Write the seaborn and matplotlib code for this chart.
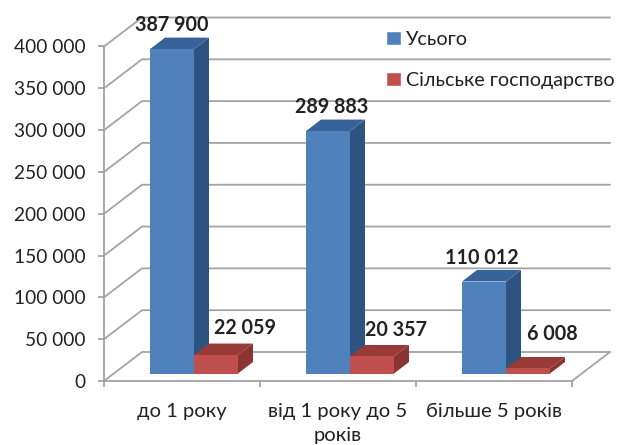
import pandas as pd
import seaborn as sns
import matplotlib.pyplot as plt
from matplotlib.patches import Polygon
from matplotlib.ticker import FuncFormatter, FixedLocator
from matplotlib.transforms import Affine2D

# --- data ---
categories = ["до 1 року", "від 1 року до 5\nроків", "більше 5 років"]
series_names = ["Усього", "Сільське господарство"]
total_values = [387900, 289883, 110012]
agri_values = [22059, 20357, 6008]
y_ticks = [0, 50000, 100000, 150000, 200000, 250000, 300000, 350000, 400000]

# --- style ---
W, H = 619, 445
AX_L, AX_R, AX_T, AX_B = 104, 572, 46.5, 381
GRID = "#a3a3a3"
FACE = ["#4f81bd", "#c0504d"]
SIDE = ["#2f5381", "#8a3432"]
TOP = ["#38639a", "#983a38"]
TXT = "#222222"
FS = 14.6

sns.set_theme(style="white")
plt.rcParams["font.family"] = ["Lato", "Open Sans", "DejaVu Sans"]

df = pd.DataFrame({
    "cat": categories * 2,
    "series": [series_names[0]] * 3 + [series_names[1]] * 3,
    "value": total_values + agri_values,
})

fig = plt.figure(figsize=(W / 100, H / 100), dpi=100)
ax = fig.add_axes([AX_L / W, 1 - AX_B / H, (AX_R - AX_L) / W, (AX_B - AX_T) / H])
ax.patch.set_alpha(0)

sns.barplot(data=df, x="cat", y="value", hue="series", hue_order=series_names,
            palette=FACE, saturation=1, width=0.564, gap=0, ax=ax, zorder=3)

ax.set_xlim(-0.5, 2.5)
ax.set_ylim(0, 400000)
ax.set_xlabel("")
ax.set_ylabel("")

# px -> data units
px_x = 3 / (AX_R - AX_L)
px_y = 400000 / (AX_B - AX_T)

# walls and floor, same depth for all of them
wall_dx, wall_dy = 38 * px_x, 29 * px_y
for v in y_ticks:
    ax.plot([-0.5, -0.5 + wall_dx, 2.5 + wall_dx], [v, v + wall_dy, v + wall_dy],
            color=GRID, lw=1.3, clip_on=False, zorder=1)
ax.plot([2.5, 2.5 + wall_dx], [0, wall_dy], color=GRID, lw=1.3, clip_on=False, zorder=1)

# bars stand a bit behind the front edge of the floor
shift = Affine2D().translate(12, 7.5)
bar_trans = ax.transData + shift
bar_dx, bar_dy = 15 * px_x, 11.5 * px_y

for n, cont in enumerate(ax.containers):
    for bar in cont:
        bar.set_transform(bar_trans)
        bar.set_linewidth(0)
        x0, w, h = bar.get_x(), bar.get_width(), bar.get_height()
        x1 = x0 + w
        side = [(x1, 0), (x1 + bar_dx, bar_dy), (x1 + bar_dx, h + bar_dy), (x1, h)]
        top = [(x0, h), (x0 + bar_dx, h + bar_dy), (x1 + bar_dx, h + bar_dy), (x1, h)]
        z = 3 + n
        ax.add_patch(Polygon(side, fc=SIDE[n], ec="none", transform=bar_trans, clip_on=False, zorder=z))
        ax.add_patch(Polygon(top, fc=TOP[n], ec="none", transform=bar_trans, clip_on=False, zorder=z))
        bar.set_zorder(z + 0.5)
        bar.set_clip_on(False)

# value labels, pixel shift from the top middle of the front face
label_shifts = [[(0, 24), (4, 24), (-2, 24)], [(29, 27), (24, 26), (24, 34)]]
for n, cont in enumerate(ax.containers):
    for i, bar in enumerate(cont):
        val = int(bar.get_height())
        dx, dy = label_shifts[n][i]
        ax.annotate(f"{val:,}".replace(",", " "),
                    (bar.get_x() + bar.get_width() / 2, val),
                    xycoords=bar_trans, xytext=(dx * 0.72, dy * 0.72),
                    textcoords="offset points", ha="center", va="center",
                    fontsize=14.2, fontweight="bold", color=TXT, zorder=8)

# axes
sns.despine(ax=ax, top=True, right=True)
for name in ["left", "bottom"]:
    ax.spines[name].set_color(GRID)
    ax.spines[name].set_linewidth(1.3)
    ax.spines[name].set_zorder(2)

ax.yaxis.set_major_locator(FixedLocator(y_ticks))
ax.yaxis.set_major_formatter(FuncFormatter(lambda v, _: f"{int(v):,}".replace(",", " ")))
ax.tick_params(axis="y", left=True, length=4.5, width=1.3, color=GRID, pad=9,
               labelsize=13.8, labelcolor=TXT)
ax.tick_params(axis="x", which="major", bottom=False, pad=10, labelsize=FS, labelcolor=TXT)
for lab in ax.get_xticklabels():
    lab.set_linespacing(1.5)
ax.xaxis.set_minor_locator(FixedLocator([-0.5, 0.5, 1.5, 2.5]))
ax.tick_params(axis="x", which="minor", bottom=True, length=4, width=1.3, color=GRID)

ax.legend(loc="upper left", bbox_to_anchor=(386 / W, 1 - 31 / H), bbox_transform=fig.transFigure,
          frameon=False, fontsize=14.2, labelcolor=TXT, handlelength=0.75, handleheight=0.75,
          handletextpad=0.25, labelspacing=1.2, borderaxespad=0, borderpad=0)

fig.savefig("out.png", dpi=100)
